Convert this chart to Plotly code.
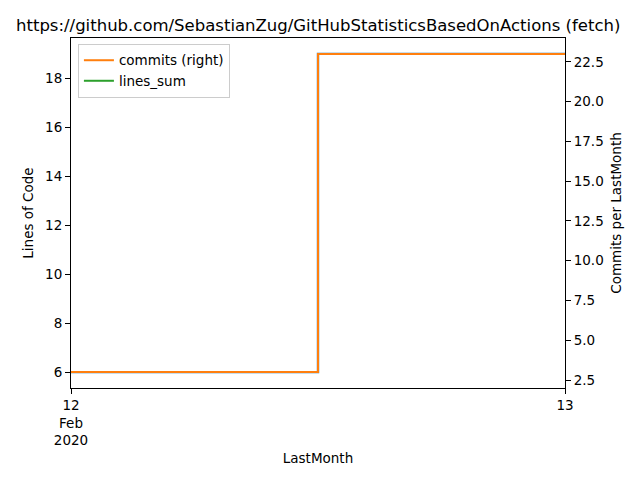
import plotly.graph_objects as go

dates = ["2020-02-12", "2020-02-13"]
lines_sum = [6, 19]
commits = [3, 23]
x_tickvals = ["2020-02-12", "2020-02-13"]
x_ticktext = ["12<br>Feb<br>2020", "13"]
title = "https://github.com/SebastianZug/GitHubStatisticsBasedOnActions (fetch)"

FONT = "DejaVu Sans"
FS = 13.5
# page body has an 8px offset; plot area targets screen x 71..565, y 38..388
L, T, R, B = 63, 30, 83, 100
fig = go.Figure()
fig.add_trace(go.Scatter(x=dates, y=lines_sum, mode="lines", line=dict(color="#2ca02c", width=2, shape="hvh"),
                         name="lines_sum", showlegend=False))
fig.add_trace(go.Scatter(x=dates, y=lines_sum, mode="lines", line=dict(color="#1f77b4", width=2.4, shape="hvh"),
                         name="lines", showlegend=False))
fig.add_trace(go.Scatter(x=dates, y=commits, mode="lines", line=dict(color="#ff7f0e", width=2, shape="hvh"),
                         name="commits (right)", yaxis="y2"))
fig.add_trace(go.Scatter(x=[None], y=[None], mode="lines", line=dict(color="#2ca02c", width=2),
                         name="lines_sum"))

fig.add_annotation(text=title, xref="paper", yref="paper", x=0.5, y=1 + 13 / 350,
                   xanchor="center", yanchor="middle", showarrow=False, font=dict(size=16.5))

fig.update_layout(
    width=640, height=480,
    margin=dict(l=L, r=R, t=T, b=B, autoexpand=False),
    paper_bgcolor="white", plot_bgcolor="white",
    font=dict(family=FONT, size=FS, color="black"),
    showlegend=True,
    legend=dict(x=0.014, y=0.983, xanchor="left", yanchor="top", bgcolor="rgba(255,255,255,0.8)",
                bordercolor="#cccccc", borderwidth=1, font=dict(size=FS), tracegroupgap=0,
                itemwidth=30),
    xaxis=dict(type="date", range=[dates[0], dates[1]], tickvals=x_tickvals, ticktext=x_ticktext,
               showgrid=False, zeroline=False, showline=True, linecolor="black", linewidth=1, mirror=True,
               ticks="outside", ticklen=5, tickcolor="black", automargin=False,
               title=dict(text="LastMonth", font=dict(size=FS), standoff=6)),
    yaxis=dict(range=[5.35, 19.65], dtick=2, tick0=0, showgrid=False, zeroline=False, showline=True,
               linecolor="black", linewidth=1, mirror=True, ticks="outside", ticklen=5, tickcolor="black",
               automargin=False,
               title=dict(text="Lines of Code", font=dict(size=FS), standoff=8)),
    yaxis2=dict(range=[2, 24], dtick=2.5, tick0=0, tickformat=".1f", overlaying="y", side="right",
                showgrid=False, zeroline=False, showline=True, linecolor="black", linewidth=1,
                ticks="outside", ticklen=5, tickcolor="black", automargin=False,
                title=dict(text="Commits per LastMonth", font=dict(size=FS), standoff=8)),
)
fig.write_html("out.html")
